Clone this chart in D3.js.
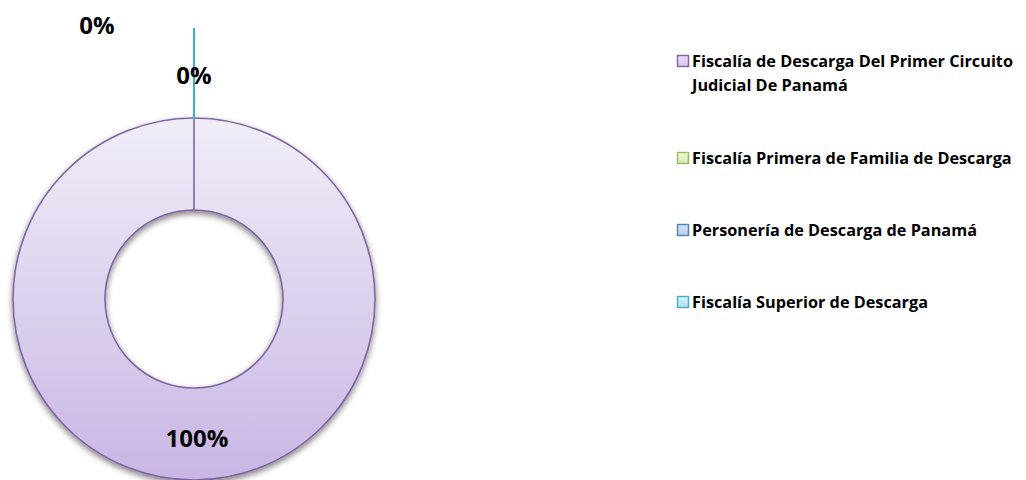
<!DOCTYPE html>
<html><head><meta charset="utf-8">
<script src="https://cdn.jsdelivr.net/npm/d3@7"></script>
<style>body{margin:0;background:#fff}svg{display:block}text{font-family:"Open Sans",Lato,sans-serif;font-weight:bold}</style>
</head><body>
<svg id="c" width="1026" height="480"></svg>
<script>
const categories = ["Fiscalía de Descarga Del Primer Circuito Judicial De Panamá","Fiscalía Primera de Familia de Descarga","Personería de Descarga de Panamá","Fiscalía Superior de Descarga"];
const values = [100, 0, 0, 0];
const percentLabels = ["100%","0%","0%","0%"];
const fills = ["#d3c6ea","#d7e4bd","#b9cde5","#b7dee8"];
const strokes = ["#8064a2","#9bbb59","#4f81bd","#4bacc6"];

const svg = d3.select("#c");
const cx = 194, cy = 299, rO = 181, rI = 89, explode = 90;
const defs = svg.append("defs");
const g1 = defs.append("linearGradient").attr("id","pg").attr("gradientUnits","userSpaceOnUse")
  .attr("x1",0).attr("y1",-rO).attr("x2",0).attr("y2",rO);
g1.append("stop").attr("offset","0%").attr("stop-color","#f1edf8");
g1.append("stop").attr("offset","100%").attr("stop-color","#c8b6e4");
const sh = defs.append("filter").attr("id","sh").attr("x","-20%").attr("y","-20%").attr("width","140%").attr("height","140%");
sh.append("feGaussianBlur").attr("in","SourceAlpha").attr("stdDeviation",3).attr("result","b");
sh.append("feOffset").attr("in","b").attr("dx",0).attr("dy",3).attr("result","o");
sh.append("feComponentTransfer").attr("in","o").attr("result","o2").append("feFuncA").attr("type","linear").attr("slope",0.5);
const m = sh.append("feMerge"); m.append("feMergeNode").attr("in","o2"); m.append("feMergeNode").attr("in","SourceGraphic");

const pie = d3.pie().sort(null).value(d=>d);
const arcs = pie(values);
const arc = d3.arc().innerRadius(rI).outerRadius(rO);
const g = svg.append("g").attr("transform",`translate(${cx},${cy})`);

arcs.forEach((a,i)=>{
  const mid = (a.startAngle+a.endAngle)/2;
  const off = a.value===0 && i===values.length-1 ? explode : 0;
  const dx = Math.sin(mid)*off, dy = -Math.cos(mid)*off;
  if (a.endAngle - a.startAngle > 0) {
    g.append("path").attr("d",arc(a)).attr("fill","url(#pg)").attr("stroke",strokes[i]).attr("stroke-width",1.6)
      .attr("filter","url(#sh)");
    g.append("line").attr("x1",Math.sin(a.startAngle)*rI).attr("y1",-Math.cos(a.startAngle)*rI)
      .attr("x2",Math.sin(a.startAngle)*rO).attr("y2",-Math.cos(a.startAngle)*rO)
      .attr("stroke",strokes[i]).attr("stroke-width",1.6);
  } else if (off>0) {
    g.append("line").attr("x1",dx+Math.sin(mid)*rI).attr("y1",dy-Math.cos(mid)*rI)
      .attr("x2",dx+Math.sin(mid)*rO).attr("y2",dy-Math.cos(mid)*rO)
      .attr("stroke",strokes[i]).attr("stroke-width",2.2);
  }
});

const rL = (rI+rO)/2;
arcs.forEach((a,i)=>{
  const mid = (a.startAngle+a.endAngle)/2;
  let x, y;
  if (i===0) { x = Math.sin(mid)*rL+3; y = -Math.cos(mid)*rL+3; }
  else if (i===values.length-1) { x = Math.sin(mid)*(rL+explode); y = -Math.cos(mid)*(rL+explode); }
  else if (i===1) { x = -97; y = -275; }
  else return;
  g.append("text").attr("x",x).attr("y",y).attr("text-anchor","middle").attr("dominant-baseline","central")
    .attr("font-size",24).attr("fill","#000").text(percentLabels[i]);
});

const legendY = [61,158,230,302];
const lg = svg.append("g");
let fs = 14;
categories.forEach((c,i)=>{
  const gi = lg.append("g").attr("transform",`translate(677,${legendY[i]})`);
  const lgr = defs.append("linearGradient").attr("id","lg"+i).attr("x1",0).attr("y1",0).attr("x2",0).attr("y2",1);
  lgr.append("stop").attr("offset","0%").attr("stop-color",d3.color(fills[i]).brighter(0.3));
  lgr.append("stop").attr("offset","100%").attr("stop-color",fills[i]);
  gi.append("rect").attr("x",0.5).attr("y",-5.5).attr("width",11).attr("height",11)
    .attr("fill","url(#lg"+i+")").attr("stroke",strokes[i]).attr("stroke-width",1.4);
  const lines = i===0 ? ["Fiscalía de Descarga Del Primer Circuito","Judicial De Panamá"] : [c];
  lines.forEach((t,j)=>{
    gi.append("text").attr("class","lt").attr("x",15).attr("y",j*24).attr("dominant-baseline","central")
      .attr("font-size",fs).attr("fill","#000").text(t);
  });
});
const first = lg.select("text.lt").node();
const w = first.getComputedTextLength();
const nfs = Math.min(17, fs*321/w);
lg.selectAll("text.lt").attr("font-size",nfs);
</script>
</body></html>
